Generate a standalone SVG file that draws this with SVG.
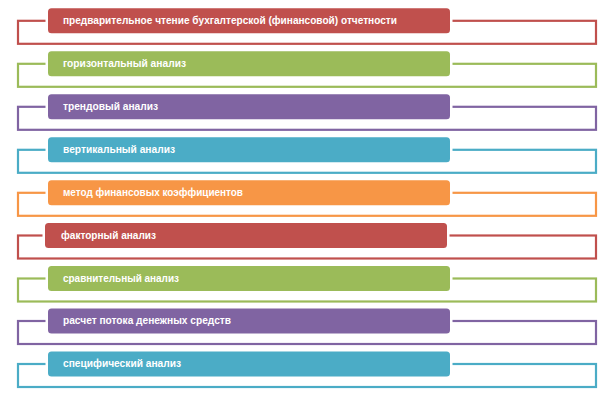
<svg xmlns="http://www.w3.org/2000/svg" width="614" height="395" viewBox="0 0 614 395">
<style>
.frame{fill:#FFFFFF;stroke-width:2.2}
.halo{fill:#FFFFFF}
.bar{stroke:none}
.lbl{font-family:"Liberation Sans",Arial,sans-serif;font-size:11px;font-weight:bold;fill:#FFFFFF}
.red{stroke:#C0504D}.redf{fill:#C0504D}
.grn{stroke:#9BBB59}.grnf{fill:#9BBB59}
.pur{stroke:#8064A2}.purf{fill:#8064A2}
.tea{stroke:#4BACC6}.teaf{fill:#4BACC6}
.org{stroke:#F79646}.orgf{fill:#F79646}
</style>
<rect width="614" height="395" fill="#FFFFFF"/>
<g id="connectors">
<rect class="frame red" x="18" y="20.8" width="578" height="23"/>
<rect class="frame grn" x="18" y="63.8" width="578" height="23"/>
<rect class="frame pur" x="18" y="106.8" width="578" height="23"/>
<rect class="frame tea" x="18" y="149.8" width="578" height="23"/>
<rect class="frame org" x="18" y="192.8" width="578" height="23"/>
<rect class="frame red" x="18" y="235.5" width="578" height="23"/>
<rect class="frame grn" x="18" y="278.5" width="578" height="23"/>
<rect class="frame pur" x="18" y="321" width="578" height="23"/>
<rect class="frame tea" x="18" y="364" width="578" height="23"/>
</g>
<g id="n1">
<rect class="halo" x="45.5" y="5.8" width="407" height="30" rx="5"/>
<rect class="bar redf" x="48" y="8.3" width="402" height="25" rx="3.5"/>
<text class="lbl" x="63" y="24" textLength="334" lengthAdjust="spacingAndGlyphs">предварительное чтение бухгалтерской (финансовой) отчетности</text>
</g>
<g id="n2">
<rect class="halo" x="45.5" y="48.8" width="407" height="30" rx="5"/>
<rect class="bar grnf" x="48" y="51.3" width="402" height="25" rx="3.5"/>
<text class="lbl" x="63" y="67" textLength="123" lengthAdjust="spacingAndGlyphs">горизонтальный анализ</text>
</g>
<g id="n3">
<rect class="halo" x="45.5" y="91.8" width="407" height="30" rx="5"/>
<rect class="bar purf" x="48" y="94.3" width="402" height="25" rx="3.5"/>
<text class="lbl" x="63" y="110" textLength="95" lengthAdjust="spacingAndGlyphs">трендовый анализ</text>
</g>
<g id="n4">
<rect class="halo" x="45.5" y="134.8" width="407" height="30" rx="5"/>
<rect class="bar teaf" x="48" y="137.3" width="402" height="25" rx="3.5"/>
<text class="lbl" x="63" y="153" textLength="112" lengthAdjust="spacingAndGlyphs">вертикальный анализ</text>
</g>
<g id="n5">
<rect class="halo" x="45.5" y="177.8" width="407" height="30" rx="5"/>
<rect class="bar orgf" x="48" y="180.3" width="402" height="25" rx="3.5"/>
<text class="lbl" x="63" y="196" textLength="180" lengthAdjust="spacingAndGlyphs">метод финансовых коэффициентов</text>
</g>
<g id="n6">
<rect class="halo" x="42.5" y="220.5" width="407" height="30" rx="5"/>
<rect class="bar redf" x="45" y="223" width="402" height="25" rx="3.5"/>
<text class="lbl" x="61" y="238.7" textLength="95" lengthAdjust="spacingAndGlyphs">факторный анализ</text>
</g>
<g id="n7">
<rect class="halo" x="45.5" y="263.5" width="407" height="30" rx="5"/>
<rect class="bar grnf" x="48" y="266" width="402" height="25" rx="3.5"/>
<text class="lbl" x="63" y="281.7" textLength="116" lengthAdjust="spacingAndGlyphs">сравнительный анализ</text>
</g>
<g id="n8">
<rect class="halo" x="45.5" y="306" width="407" height="30" rx="5"/>
<rect class="bar purf" x="48" y="308.5" width="402" height="25" rx="3.5"/>
<text class="lbl" x="63" y="324.2" textLength="168" lengthAdjust="spacingAndGlyphs">расчет потока денежных средств</text>
</g>
<g id="n9">
<rect class="halo" x="45.5" y="349" width="407" height="30" rx="5"/>
<rect class="bar teaf" x="48" y="351.5" width="402" height="25" rx="3.5"/>
<text class="lbl" x="63" y="367.2" textLength="118" lengthAdjust="spacingAndGlyphs">специфический анализ</text>
</g>
</svg>
